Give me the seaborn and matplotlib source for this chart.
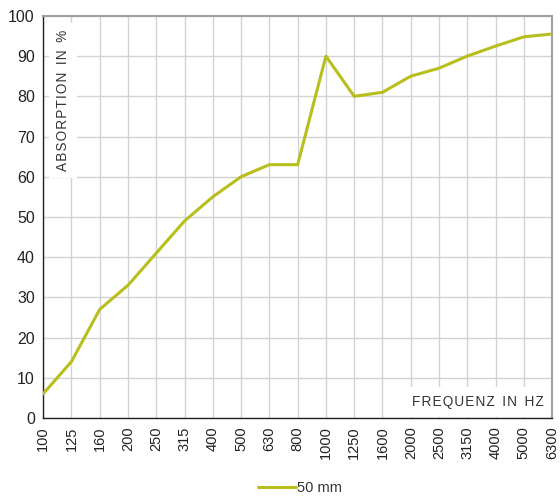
import numpy as np
import pandas as pd
import matplotlib
matplotlib.use('Agg')
import matplotlib.pyplot as plt
import seaborn as sns

freqs = ['100', '125', '160', '200', '250', '315', '400', '500', '630', '800',
         '1000', '1250', '1600', '2000', '2500', '3150', '4000', '5000', '6300']
absorption = [6, 14, 27, 33, 41, 49, 55, 60, 63, 63,
              90, 80, 81, 85, 87, 90, 92.5, 94.8, 95.5]
series_name = '50 mm'

sns.set_style('white')
plt.rcParams['font.family'] = ['Liberation Sans', 'DejaVu Sans']

df = pd.DataFrame({'freq': freqs, 'absorption': absorption, 'series': series_name})
df['pos'] = np.arange(len(freqs))

fig = plt.figure(figsize=(5.6, 4.97), dpi=100)
ax = fig.add_axes([0.077, 0.159, 0.909, 0.809])

sns.lineplot(data=df, x='pos', y='absorption', hue='series', palette=['#b8bf1c'],
             linewidth=2.2, ax=ax, zorder=3)

ax.set_xlim(0, len(freqs) - 1)
ax.set_ylim(0, 100)
ax.set_xticks(df['pos'])
ax.set_xticklabels(freqs, rotation=90, fontsize=10.5, color='#222222')
ax.set_yticks(range(0, 101, 10))
ax.tick_params(axis='y', labelsize=11.5, colors='#222222', length=4, width=0.8, pad=2)
ax.tick_params(axis='x', length=4, width=0.8, pad=2)
ax.set_xlabel('')
ax.set_ylabel('')

ax.grid(True, color='#d2d2d2', linewidth=1.0, zorder=0)
ax.set_axisbelow(True)

for side in ['left', 'bottom']:
    ax.spines[side].set_color('#222222')
    ax.spines[side].set_linewidth(1.0)
for side in ['top', 'right']:
    ax.spines[side].set_color('#a0a0a0')
    ax.spines[side].set_linewidth(1.5)


def spaced(s):
    # widen letter spacing with hair spaces
    return '  '.join('\u200a'.join(w) for w in s.split(' '))


# in-plot axis titles on white patches
ax.text(0.039, 0.965, spaced('ABSORPTION IN %'), rotation=90, transform=ax.transAxes,
        ha='center', va='top', fontsize=9.8, color='#333333',
        bbox=dict(facecolor='white', edgecolor='none', pad=5), zorder=2)
ax.text(0.983, 0.04, spaced('FREQUENZ IN HZ'), transform=ax.transAxes,
        ha='right', va='center', fontsize=9.8, color='#333333',
        bbox=dict(facecolor='white', edgecolor='none', pad=6), zorder=2)

leg = ax.legend(loc='center', bbox_to_anchor=(0.505, -0.175), frameon=False,
                fontsize=10.5, handlelength=2.6, handletextpad=0.1)
for t in leg.get_texts():
    t.set_color('#333333')

fig.savefig('out.png', dpi=100)
